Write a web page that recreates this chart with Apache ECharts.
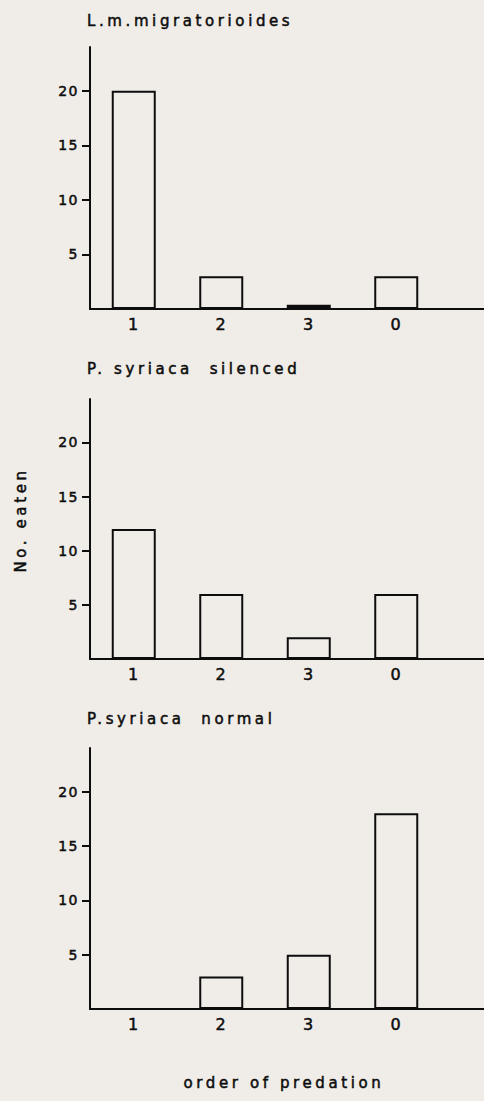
<!DOCTYPE html>
<html>
<head>
<meta charset="utf-8">
<script src="https://cdn.jsdelivr.net/npm/echarts@6/dist/echarts.min.js"></script>
<style>
  html, body { margin: 0; padding: 0; background: #f0ede8; }
  #chart { width: 484px; height: 1101px; }
  #chart text { letter-spacing: 1.5px; }
  #chart text[style*="15px"] { letter-spacing: 3.6px; }
</style>
</head>
<body>
<div id="chart"></div>
<script>
// ---- data ----
const categories = ['1', '2', '3', '0'];
const migratorioides = [20, 3, 0.4, 3];
const syriacaSilenced = [12, 6, 2, 6];
const syriacaNormal = [0, 3, 5, 18];
const yTickValues = [5, 10, 15, 20];
const panelTitles = ['L.m.migratorioides', 'P. syriaca  silenced', 'P.syriaca  normal'];
const yTitle = 'No. eaten';
const xTitle = 'order of predation';

const seriesData = [migratorioides, syriacaSilenced, syriacaNormal];
const xPositions = categories.map((c, i) => i + 1);
const ink = '#0d0d0d';
const paper = '#f0ede8';
const font = 'DejaVu Sans';
const heavy = { textBorderColor: ink, textBorderWidth: 0.5 };

const panels = [
  { top: 47, height: 262, titleTop: 13 },
  { top: 399, height: 260, titleTop: 361 },
  { top: 748, height: 261, titleTop: 711 }
];

const chart = echarts.init(document.getElementById('chart'), null, { renderer: 'svg' });

const option = {
  backgroundColor: paper,
  animation: false,
  title: panels.map((p, i) => ({
    text: panelTitles[i],
    left: 87,
    top: p.titleTop,
    padding: 0,
    textStyle: Object.assign({ fontFamily: font, fontSize: 15, fontWeight: 'normal', color: ink }, heavy)
  })),
  grid: panels.map(p => ({ left: 90, top: p.top, right: 0, height: p.height })),
  xAxis: panels.map((p, i) => ({
    type: 'value',
    gridIndex: i,
    min: 0.5,
    max: 0.5 + 394 / 87.5,
    axisLine: { show: true, onZero: false, lineStyle: { color: ink, width: 2 } },
    axisTick: { show: false },
    axisLabel: Object.assign({
      color: ink, fontFamily: font, fontSize: 16, margin: 7,
      customValues: xPositions,
      formatter: v => categories[Math.round(v) - 1] || ''
    }, heavy),
    splitLine: { show: false }
  })),
  yAxis: panels.map((p, i) => ({
    type: 'value',
    gridIndex: i,
    min: 0,
    max: 24,
    interval: 5,
    axisLine: { show: true, lineStyle: { color: ink, width: 2 } },
    axisTick: { show: true, length: 8, lineStyle: { color: ink, width: 2 }, customValues: yTickValues },
    axisLabel: Object.assign({ color: ink, fontFamily: font, fontSize: 14, margin: 11, customValues: yTickValues }, heavy),
    splitLine: { show: false }
  })),
  series: seriesData.map((d, i) => ({
    type: 'bar',
    xAxisIndex: i,
    yAxisIndex: i,
    data: d.map((v, j) => [xPositions[j], v]),
    barWidth: 44,
    itemStyle: {
      color: params => (params.value[1] > 0 && params.value[1] < 1 ? ink : paper),
      borderColor: ink,
      borderWidth: 2
    }
  })),
  graphic: [
    {
      type: 'text',
      x: 21, y: 520,
      rotation: Math.PI / 2,
      style: { text: yTitle, fill: ink, stroke: ink, lineWidth: 0.5, font: '15px "DejaVu Sans"', align: 'center', verticalAlign: 'middle' }
    },
    {
      type: 'text',
      x: 284, y: 1083,
      style: { text: xTitle, fill: ink, stroke: ink, lineWidth: 0.5, font: '15px "DejaVu Sans"', align: 'center', verticalAlign: 'middle' }
    }
  ]
};
chart.setOption(option);
</script>
</body>
</html>
